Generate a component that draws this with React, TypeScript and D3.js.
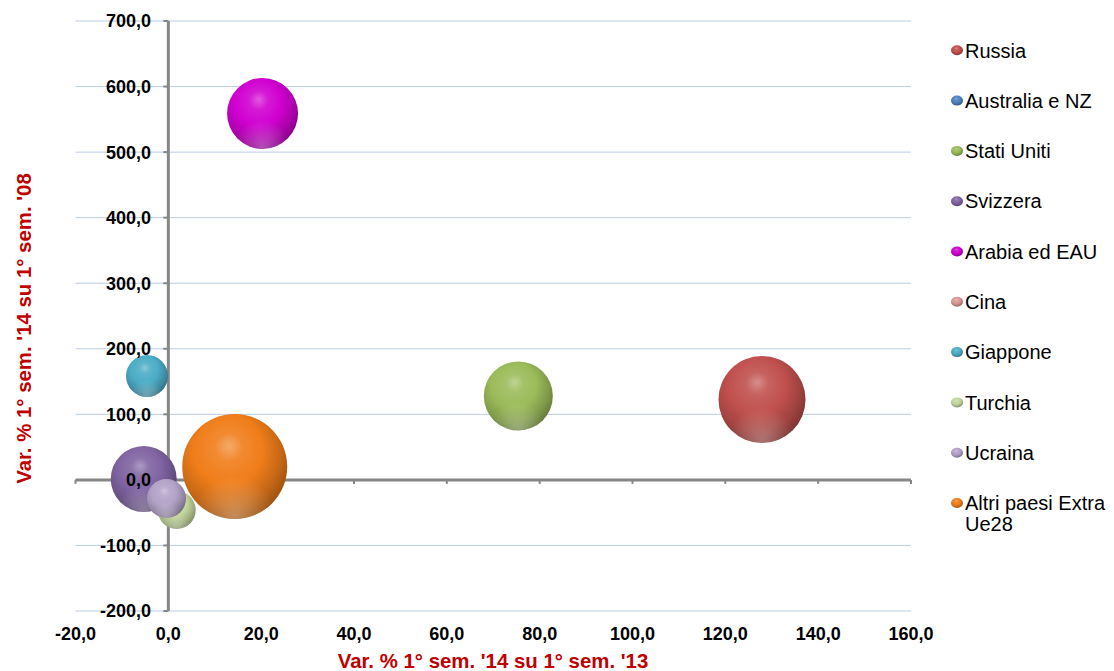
import React from "react";
import * as d3 from "d3";

const countries = [
  "Russia",
  "Australia e NZ",
  "Stati Uniti",
  "Svizzera",
  "Arabia ed EAU",
  "Cina",
  "Giappone",
  "Turchia",
  "Ucraina",
  "Altri paesi Extra Ue28",
];
// Var. % 1° sem. '14 su 1° sem. '13
const xValues: (number | null)[] = [127.9, null, 75.4, -5.3, 20.3, null, -4.6, 1.8, -0.4, 14.3];
// Var. % 1° sem. '14 su 1° sem. '08
const yValues: (number | null)[] = [122.6, null, 128.0, 1.4, 558.9, null, 158.5, -45.9, -28.4, 20.4];
// bubble size (relative)
const sizes: (number | null)[] = [68.7, null, 43.2, 39.5, 45.7, null, 16.0, 13.1, 13.8, 100];
const colors = [
  "#C0504D",
  "#4F81BD",
  "#9BBB59",
  "#8064A2",
  "#D000D0",
  "#D99694",
  "#4BACC6",
  "#C3D69B",
  "#B3A2C7",
  "#F07D1A",
];
const xTicks = [-20, 0, 20, 40, 60, 80, 100, 120, 140, 160];
const yTicks = [-200, -100, 0, 100, 200, 300, 400, 500, 600, 700];
const xTitle = "Var. % 1° sem. '14 su 1° sem. '13";
const yTitle = "Var. % 1° sem. '14 su 1° sem. '08";

const W = 1114;
const H = 671;
const left = 75.5;
const right = 911;
const top = 21;
const bottom = 611;

const fmt = (v: number) => v.toFixed(1).replace(".", ",");
const FONT = "'Liberation Sans', Arial, sans-serif";

export default function App() {
  const x = d3.scaleLinear().domain([-20, 160]).range([left, right]);
  const y = d3.scaleLinear().domain([-200, 700]).range([bottom, top]);
  const r = d3.scaleSqrt().domain([0, 100]).range([0, 52.5]);
  const x0 = x(0);
  const y0 = y(0);

  const grads = colors.map((c, i) => {
    const hi = d3.interpolateRgb(c, "#ffffff")(0.35);
    const mid = d3.interpolateRgb(c, "#ffffff")(0.1);
    return (
      <radialGradient key={i} id={`g${i}`} cx="0.42" cy="0.38" r="0.66" fx="0.45" fy="0.3">
        <stop offset="0" stopColor={hi} />
        <stop offset="0.2" stopColor={mid} />
        <stop offset="0.5" stopColor={c} />
        <stop offset="0.78" stopColor={d3.rgb(c).darker(0.55).toString()} />
        <stop offset="1" stopColor={d3.rgb(c).darker(1.3).toString()} />
      </radialGradient>
    );
  });

  const order = countries.map((_, i) => i);

  return (
    <svg
      width={W}
      height={H}
      style={{ position: "absolute", left: 0, top: 0, background: "#fff" }}
      fontFamily={FONT}
    >
      <defs>
        {grads}
        <radialGradient id="rim" cx="0.5" cy="0.98" r="0.4">
          <stop offset="0" stopColor="#ffffff" stopOpacity="0.3" />
          <stop offset="1" stopColor="#ffffff" stopOpacity="0" />
        </radialGradient>
      </defs>
      {/* gridlines */}
      {yTicks.map((t) => (
        <line key={t} x1={left} x2={right} y1={y(t)} y2={y(t)} stroke="#B9CDE5" strokeWidth={1} />
      ))}
      {/* axes */}
      <line x1={x0} x2={x0} y1={top} y2={bottom} stroke="#868686" strokeWidth={3} />
      {yTicks.map((t) => (
        <line key={t} x1={x0 - 5} x2={x0} y1={y(t)} y2={y(t)} stroke="#868686" strokeWidth={2} />
      ))}
      <line x1={left} x2={right} y1={y0} y2={y0} stroke="#868686" strokeWidth={3} />
      {xTicks.map((t) => (
        <line key={t} x1={x(t)} x2={x(t)} y1={y0} y2={y0 + 4} stroke="#868686" strokeWidth={2} />
      ))}
      {/* bubbles */}
      {order.map((i) => {
        const xv = xValues[i];
        const yv = yValues[i];
        const s = sizes[i];
        if (xv == null || yv == null || s == null) return null;
        const cx = x(xv);
        const cy = y(yv);
        const rr = r(s);
        return (
          <g key={i}>
            <circle cx={cx} cy={cy} r={rr} fill={`url(#g${i})`} />
            <circle cx={cx} cy={cy} r={rr} fill="url(#rim)" />
          </g>
        );
      })}
      {/* y tick labels */}
      {yTicks.map((t) => (
        <text
          key={t}
          x={151}
          y={y(t)}
          dy="0.36em"
          textAnchor="end"
          fontSize={18}
          fontWeight="bold"
          fill="#000"
        >
          {fmt(t)}
        </text>
      ))}
      {/* x tick labels */}
      {xTicks.map((t) => (
        <text
          key={t}
          x={x(t)}
          y={639.5}
          textAnchor="middle"
          fontSize={18}
          fontWeight="bold"
          fill="#000"
        >
          {fmt(t)}
        </text>
      ))}
      {/* axis titles */}
      <text
        x={493}
        y={668}
        textAnchor="middle"
        fontSize={20.4}
        fontWeight="bold"
        fill="#C00000"
      >
        {xTitle}
      </text>
      <text
        transform="translate(31,328.5) rotate(-90)"
        textAnchor="middle"
        fontSize={20.4}
        fontWeight="bold"
        fill="#C00000"
      >
        {yTitle}
      </text>
      {/* legend */}
      {countries.map((c, i) => {
        const ly = 50.3 + i * 50.3;
        const words = c === "Altri paesi Extra Ue28" ? ["Altri paesi Extra", "Ue28"] : [c];
        return (
          <g key={c}>
            <ellipse cx={957} cy={ly} rx={6} ry={5} fill={`url(#g${i})`} />
            <text x={965} y={ly} fontSize={20} fill="#000">
              {words.map((w, k) => (
                <tspan key={k} x={965} dy={k === 0 ? "0.36em" : 21}>
                  {w}
                </tspan>
              ))}
            </text>
          </g>
        );
      })}
    </svg>
  );
}
